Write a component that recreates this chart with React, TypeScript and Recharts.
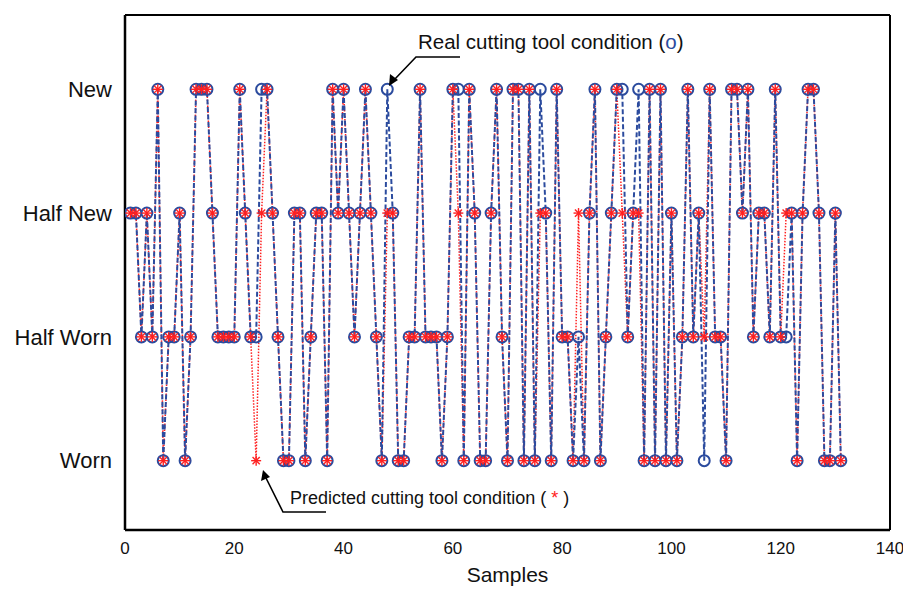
import { LineChart, Line, XAxis, YAxis } from "recharts";

// tool condition codes: 1 = Worn, 2 = Half Worn, 3 = Half New, 4 = New
const conditionLabels = ["", "Worn", "Half Worn", "Half New", "New"];

const realCondition = [
  3, 3, 2, 3, 2, 4, 1, 2, 2, 3, 1, 2, 4, 4, 4, 3, 2, 2, 2, 2,
  4, 3, 2, 2, 4, 4, 3, 2, 1, 1, 3, 3, 1, 2, 3, 3, 1, 4, 3, 4,
  3, 2, 3, 4, 3, 2, 1, 4, 3, 1, 1, 2, 2, 4, 2, 2, 2, 1, 2, 4,
  4, 1, 4, 3, 1, 1, 3, 4, 2, 1, 4, 4, 1, 4, 1, 4, 3, 1, 4, 2,
  2, 1, 2, 1, 3, 4, 1, 2, 3, 4, 4, 2, 3, 4, 1, 4, 1, 4, 1, 3,
  1, 2, 4, 2, 3, 1, 4, 2, 2, 1, 4, 4, 3, 4, 2, 3, 3, 2, 4, 2,
  2, 3, 1, 3, 4, 4, 3, 1, 1, 3, 1,
];

const predictedCondition = [
  3, 3, 2, 3, 2, 4, 1, 2, 2, 3, 1, 2, 4, 4, 4, 3, 2, 2, 2, 2,
  4, 3, 2, 1, 3, 4, 3, 2, 1, 1, 3, 3, 1, 2, 3, 3, 1, 4, 3, 4,
  3, 2, 3, 4, 3, 2, 1, 3, 3, 1, 1, 2, 2, 4, 2, 2, 2, 1, 2, 4,
  3, 1, 4, 3, 1, 1, 3, 4, 2, 1, 4, 4, 1, 4, 1, 3, 3, 1, 4, 2,
  2, 1, 3, 1, 3, 4, 1, 2, 3, 4, 3, 2, 3, 3, 1, 4, 1, 4, 1, 3,
  1, 2, 4, 2, 3, 2, 4, 2, 2, 1, 4, 4, 3, 4, 2, 3, 3, 2, 4, 2,
  3, 3, 1, 3, 4, 4, 3, 1, 1, 3, 1,
];

const xTicks = [0, 20, 40, 60, 80, 100, 120, 140];
const yTicks = [1, 2, 3, 4];

const data = realCondition.map((real, i) => ({
  sample: i + 1,
  real,
  predicted: predictedCondition[i],
}));

const BLUE = "#2b4b9e";
const RED = "#ff2020";
const FONT = '"Liberation Sans", Arial, Helvetica, sans-serif';

const Star = (props: any) => {
  const { cx, cy, index } = props;
  if (cx == null || cy == null) return null;
  const r = 5;
  const d = r * 0.72;
  return (
    <g key={`star-${index}`} stroke={RED} strokeWidth={1.4}>
      <line x1={cx - r} y1={cy} x2={cx + r} y2={cy} />
      <line x1={cx} y1={cy - r} x2={cx} y2={cy + r} />
      <line x1={cx - d} y1={cy - d} x2={cx + d} y2={cy + d} />
      <line x1={cx - d} y1={cy + d} x2={cx + d} y2={cy - d} />
    </g>
  );
};

const Annotations = () => (
  <svg
    width={903}
    height={589}
    style={{ position: "absolute", left: 0, top: 0, pointerEvents: "none" }}
  >
    <text x={418} y={49} fontFamily={FONT} fontSize={20.5} fill="#111">
      Real cutting tool condition (<tspan fill={BLUE}>o</tspan>)
    </text>
    <text x={290} y={504} fontFamily={FONT} fontSize={18} fill="#111">
      Predicted cutting tool condition (<tspan fill={RED}> * </tspan>)
    </text>
    <g stroke="#000" strokeWidth={1.6} fill="none">
      <polyline points="460,57 416,57 394,80" />
      <polyline points="326,512 283,512 266,478" />
    </g>
    <polygon points="389,86 390,74 398,80" fill="#000" />
    <polygon points="263,470 261,481 270,477" fill="#000" />
  </svg>
);

export default function App() {
  return (
    <div style={{ position: "absolute", left: 0, top: 0, width: 903, height: 589, background: "#fff" }}>
      <LineChart
        width={903}
        height={589}
        data={data}
        margin={{ top: 15, right: 13, bottom: 0, left: 0 }}
      >
        <XAxis
          xAxisId="x"
          dataKey="sample"
          type="number"
          domain={[0, 140]}
          ticks={xTicks}
          allowDataOverflow
          height={59}
          tickLine={false}
          tickSize={6}
          tickMargin={6}
          axisLine={{ stroke: "#000", strokeWidth: 2.5 }}
          tick={{ fontSize: 17, fill: "#111", fontFamily: FONT }}
          label={{
            value: "Samples",
            position: "insideBottom",
            offset: 7,
            fontSize: 21,
            fill: "#111",
            fontFamily: FONT,
          }}
        />
        <XAxis
          xAxisId="xin"
          dataKey="sample"
          type="number"
          domain={[0, 140]}
          ticks={xTicks}
          allowDataOverflow
          mirror
          tick={false}
          tickSize={5}
          tickLine={{ stroke: "#000", strokeWidth: 1 }}
          axisLine={false}
        />
        <XAxis
          xAxisId="top"
          orientation="top"
          dataKey="sample"
          type="number"
          domain={[0, 140]}
          ticks={xTicks}
          allowDataOverflow
          mirror
          tick={false}
          tickSize={5}
          tickLine={{ stroke: "#000", strokeWidth: 1 }}
          axisLine={{ stroke: "#000", strokeWidth: 2 }}
        />
        <YAxis
          yAxisId="y"
          type="number"
          domain={[0.44, 4.6]}
          ticks={yTicks}
          allowDataOverflow
          width={125}
          tickLine={false}
          tickSize={6}
          tickMargin={7}
          tickFormatter={(v: number) => conditionLabels[v]}
          axisLine={{ stroke: "#000", strokeWidth: 2.5 }}
          tick={{ fontSize: 22, fill: "#111", fontFamily: FONT }}
        />
        <YAxis
          yAxisId="yin"
          type="number"
          domain={[0.44, 4.6]}
          ticks={yTicks}
          allowDataOverflow
          mirror
          tick={false}
          tickSize={5}
          tickLine={{ stroke: "#000", strokeWidth: 1 }}
          axisLine={false}
        />
        <YAxis
          yAxisId="right"
          orientation="right"
          type="number"
          domain={[0.44, 4.6]}
          ticks={yTicks}
          allowDataOverflow
          mirror
          tick={false}
          tickSize={5}
          tickLine={{ stroke: "#000", strokeWidth: 1 }}
          axisLine={{ stroke: "#000", strokeWidth: 2 }}
        />
        <Line
          xAxisId="x"
          yAxisId="y"
          type="linear"
          dataKey="predicted"
          stroke={RED}
          strokeWidth={1.5}
          strokeDasharray="1.5 1.5"
          dot={false}
          activeDot={false}
          isAnimationActive={false}
        />
        <Line
          xAxisId="x"
          yAxisId="y"
          type="linear"
          dataKey="real"
          stroke={BLUE}
          strokeWidth={2}
          strokeDasharray="5 2.5"
          dot={{ r: 5.5, stroke: BLUE, strokeWidth: 2, fill: "none", strokeDasharray: "0" }}
          activeDot={false}
          isAnimationActive={false}
        />
        <Line
          xAxisId="x"
          yAxisId="y"
          type="linear"
          dataKey="predicted"
          stroke="none"
          strokeWidth={0}
          dot={<Star />}
          activeDot={false}
          isAnimationActive={false}
        />
      </LineChart>
      <Annotations />
    </div>
  );
}
